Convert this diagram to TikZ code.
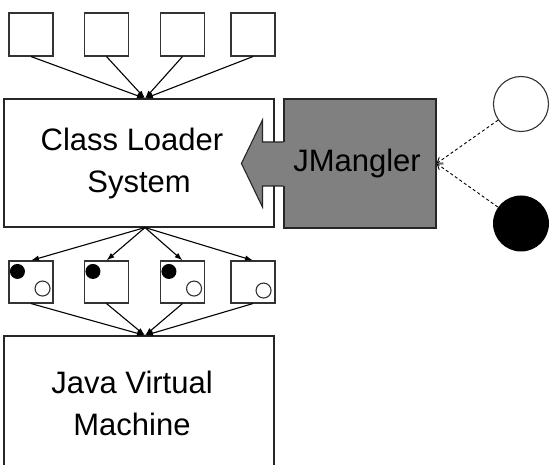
\documentclass[tikz,border=0pt]{standalone}
\usepackage{fontspec}
\setmainfont{Liberation Sans}
\usetikzlibrary{arrows.meta, positioning}

\begin{document}
\begin{tikzpicture}[x=1pt, y=-1pt, line width=1.1pt, >={Latex[length=8pt,width=5.5pt]},
    file/.style={draw=black!80, rectangle, minimum width=44pt, minimum height=43pt, inner sep=0pt},
    block/.style={draw=black!85, fill=white, rectangle, minimum width=270pt, inner sep=0pt, align=center, font=\fontsize{31}{42}\selectfont},
    dot/.style={circle, fill=black, minimum size=15pt, inner sep=0pt},
    hole/.style={circle, draw=black!80, fill=white, minimum size=15pt, inner sep=0pt},
    probe/.style={dashed, dash pattern=on 3pt off 2.5pt, line width=0.9pt, -{Straight Barb[length=5pt,width=7pt]}}]
    \clip (0,0) rectangle (550,465);

    % class files
    \node[file] (t1) at (31,34.5) {};
    \node[file] (t2) at (106.5,34.5) {};
    \node[file] (t3) at (182.5,34.5) {};
    \node[file] (t4) at (253,34.5) {};

    \node[block, minimum height=128pt] (loader) at (139,163) {\hspace*{-14pt}Class Loader\\System};
    \node[block, minimum height=134pt] (jvm) at (139,403) {\hspace*{-14pt}Java Virtual\\\hspace*{-14pt}Machine};

    % JMangler box with its arrow into the loader
    \node[draw=black!85, fill=gray, minimum width=152pt, minimum height=129pt, inner sep=0pt,
          font=\fontsize{31}{42}\selectfont] (jm) at (360,163.5) {\hspace*{-6pt}JMangler};
    \fill[gray] ([shift={(-21,-21.5)}]jm.west) rectangle ([shift={(1.5,22.5)}]jm.west);
    \draw[black!85, fill=gray] ([shift={(0,-21.5)}]jm.west) -- ++(-21,0) -- ++(0,-22) -- ([xshift=-42pt]jm.west)
        -- ([shift={(-21,43.5)}]jm.west) -- ++(0,-21) -- ++(21,0);

    % transformed class files
    \node[file, minimum height=42pt] (m1) at (31,282) {};
    \node[file, minimum height=42pt] (m2) at (106.5,282) {};
    \node[file, minimum height=42pt] (m3) at (182.5,282) {};
    \node[file, minimum height=42pt] (m4) at (253,282) {};

    \node[dot] (d1) at ([shift={(9,11)}]m1.north west) {};
    \node[dot] (d2) at ([shift={(9,11)}]m2.north west) {};
    \node[dot] (d3) at ([shift={(9,11)}]m3.north west) {};
    \node[hole] (h1) at ([shift={(-11,-15)}]m1.south east) {};
    \node[hole] (h3) at ([shift={(-11,-15)}]m3.south east) {};
    \node[hole] (h4) at ([shift={(-12,-13)}]m4.south east) {};

    % transformers
    \node[hole, minimum size=55pt] (white) at (521,104) {};
    \node[dot, minimum size=56pt] (black) at (521,223.5) {};

    \draw[probe] (white) -- (jm.east);
    \draw[probe] (black) -- (jm.east);

    \draw[->] (t1.south) -- ([xshift=6pt]loader.north);
    \draw[->] (t2.south) -- ([xshift=6pt]loader.north);
    \draw[->] (t3.south) -- ([xshift=6pt]loader.north);
    \draw[->] (t4.south) -- ([xshift=6pt]loader.north);

    \draw[->] ([xshift=6pt]loader.south) -- (m1.north);
    \draw[->] ([xshift=6pt]loader.south) -- (m2.north);
    \draw[->] ([xshift=6pt]loader.south) -- (m3.north);
    \draw[->] ([xshift=6pt]loader.south) -- (m4.north);

    \draw[->] (m1.south) -- ([xshift=6pt]jvm.north);
    \draw[->] (m2.south) -- ([xshift=6pt]jvm.north);
    \draw[->] (m3.south) -- ([xshift=6pt]jvm.north);
    \draw[->] (m4.south) -- ([xshift=6pt]jvm.north);
\end{tikzpicture}
\end{document}
